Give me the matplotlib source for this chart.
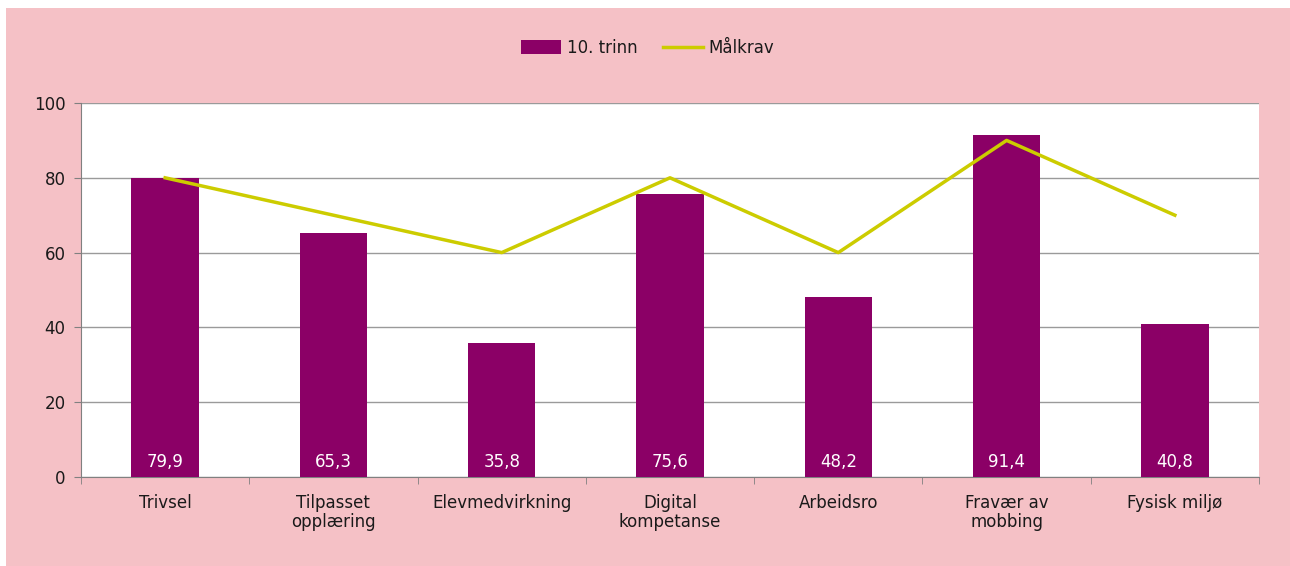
import numpy as np
import matplotlib
matplotlib.use("Agg")
import matplotlib.pyplot as plt
from matplotlib.patches import Rectangle

categories = ["Trivsel", "Tilpasset\nopplæring", "Elevmedvirkning", "Digital\nkompetanse",
              "Arbeidsro", "Fravær av\nmobbing", "Fysisk miljø"]
trinn10 = [79.9, 65.3, 35.8, 75.6, 48.2, 91.4, 40.8]
malkrav = [80, 70, 60, 80, 60, 90, 70]
yticks = [0, 20, 40, 60, 80, 100]

pink = "#F5C1C6"
bar_color = "#8B0066"
line_color = "#CCCC00"
fs = 12

plt.rcParams['font.family'] = ['DejaVu Sans']

fig = plt.figure(figsize=(12.9, 5.66), dpi=100)
fig.patch.set_facecolor("white")
# pink panel behind the chart (white strip on top and left)
fig.patches.append(Rectangle((6 / 1290, 0), 1 - 6 / 1290, 1 - 8 / 566,
                             transform=fig.transFigure, facecolor=pink,
                             edgecolor="none", zorder=-10))

ax = fig.add_axes([81 / 1290, 1 - 477 / 566, (1259 - 81) / 1290, (477 - 103) / 566])
ax.set_zorder(1)
ax.set_facecolor("white")

x = np.arange(len(categories))
bars = ax.bar(x, trinn10, width=0.40, color=bar_color, zorder=3, label="10. trinn")
line, = ax.plot(x, malkrav, color=line_color, lw=2.5, zorder=4, label="Målkrav")

for xi, v in zip(x, trinn10):
    ax.text(xi, 4, f"{v:.1f}".replace(".", ","), ha="center", va="center",
            color="white", fontsize=fs, zorder=5)

ax.set_xlim(-0.5, len(categories) - 0.5)
ax.set_ylim(0, 100)
ax.set_yticks(yticks)
ax.set_yticklabels([str(t) for t in yticks], fontsize=fs, color="#1a1a1a")
ax.yaxis.grid(True, color="#9a9a9a", lw=1, zorder=1)
ax.set_axisbelow(True)

ax.set_xticks(x)
ax.set_xticklabels(categories, fontsize=fs, color="#1a1a1a", linespacing=1.1)
ax.tick_params(axis="x", length=0, pad=12)
ax.set_xticks(np.arange(-0.5, len(categories)), minor=True)
ax.tick_params(axis="x", which="minor", length=5, color="#808080")
ax.tick_params(axis="y", length=5, color="#808080", pad=6)

for side in ["top", "right"]:
    ax.spines[side].set_visible(False)
for side in ["left", "bottom"]:
    ax.spines[side].set_color("#808080")

fig.legend(handles=[bars, line], labels=["10. trinn", "Målkrav"], loc="center",
           bbox_to_anchor=(648 / 1290, 1 - 48 / 566), ncol=2, frameon=False,
           fontsize=fs, handlelength=2.4, handleheight=0.9, columnspacing=1.5,
           handletextpad=0.35, labelcolor="#1a1a1a")

fig.savefig("out.png", dpi=100, facecolor=fig.get_facecolor())
